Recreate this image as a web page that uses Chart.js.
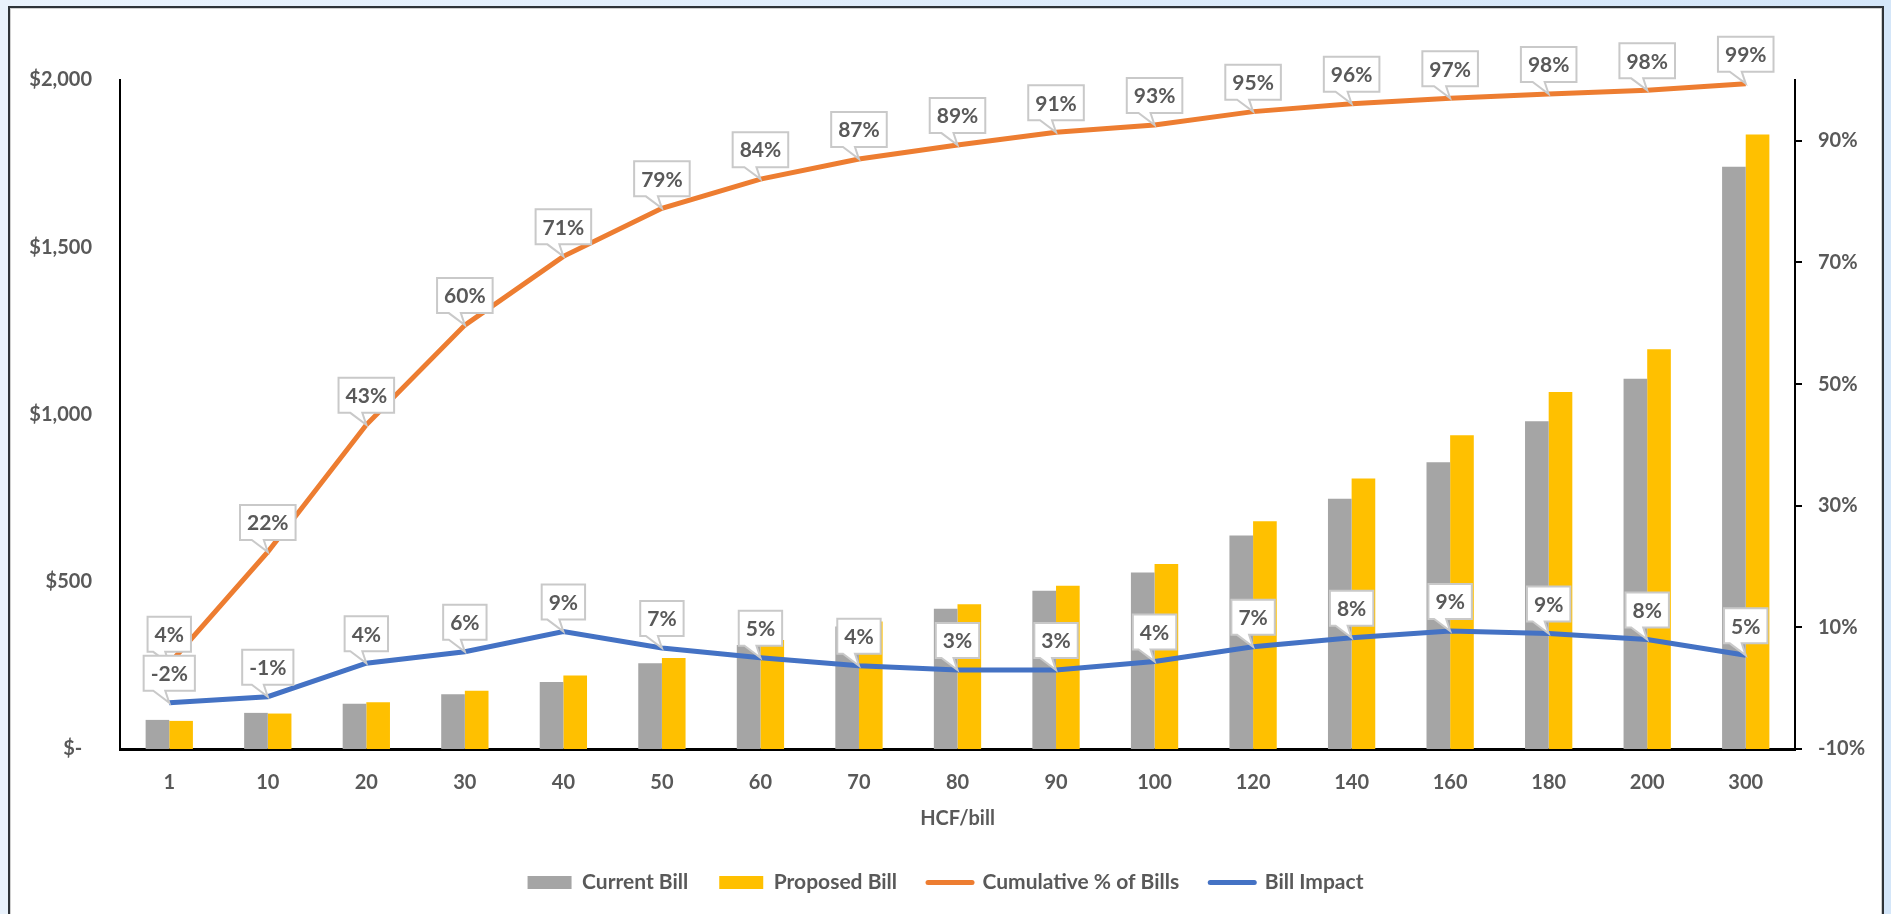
<!DOCTYPE html>
<html>
<head>
<meta charset="utf-8">
<script src="https://cdn.jsdelivr.net/npm/chart.js@4.4.1/dist/chart.umd.min.js"></script>
<style>
  html, body { margin: 0; padding: 0; overflow: hidden; }
  body { width: 1891px; height: 914px; background: linear-gradient(90deg, #e9f2fc 0%, #d4e6f9 100%); position: relative; }
  #frame { position: absolute; left: 8px; top: 6px; width: 1872px; height: 960px; background: #fff; border: 2px solid #2e3338; box-shadow: inset 0 0 0 1px #d0d0d0; }
  #c { position: absolute; left: 0; top: 0; }
</style>
</head>
<body>
<div id="frame"></div>
<canvas id="c" width="1891" height="914"></canvas>
<script>
var hcf = ['1','10','20','30','40','50','60','70','80','90','100','120','140','160','180','200','300'];
var currentBill = [87, 108, 135, 164, 200, 256, 311, 366, 419, 473, 528, 638, 748, 857, 980, 1107, 1741];
var proposedBill = [84, 106, 140, 174, 220, 272, 326, 381, 433, 488, 553, 681, 809, 938, 1067, 1195, 1837];
var cumulativePct = [0.04, 0.224, 0.433, 0.597, 0.71, 0.789, 0.837, 0.87, 0.893, 0.914, 0.926, 0.948, 0.961, 0.97, 0.977, 0.983, 0.994];
var billImpact = [-0.024, -0.014, 0.041, 0.06, 0.093, 0.066, 0.05, 0.037, 0.03, 0.03, 0.044, 0.068, 0.083, 0.094, 0.09, 0.08, 0.054];
var pctTicks = [-0.1, 0.1, 0.3, 0.5, 0.7, 0.9];

var textColor = '#595959';
var fontFamily = 'Lato, "Open Sans", sans-serif';

// callout boxes above line points
var calloutPlugin = {
    id: 'callouts',
    afterDatasetsDraw: function(chart){
        var ctx = chart.ctx;
        ctx.save();
        ctx.font = 'bold 21px ' + fontFamily;
        ctx.textAlign = 'center';
        ctx.textBaseline = 'middle';
        chart.data.datasets.forEach(function(ds, di){
            if(!ds.callout){ return; }
            var meta = chart.getDatasetMeta(di);
            meta.data.forEach(function(pt, i){
                var txt = Math.round(ds.data[i] * 100) + '%';
                var w = ctx.measureText(txt).width + 14;
                var h = 35;
                var cx = pt.x, py = pt.y;
                var bottom = py - 12, top = bottom - h;
                var left = cx - w / 2, right = cx + w / 2;
                ctx.beginPath();
                ctx.moveTo(left, top);
                ctx.lineTo(right, top);
                ctx.lineTo(right, bottom);
                ctx.lineTo(cx - 4, bottom);
                ctx.lineTo(cx, py);
                ctx.lineTo(cx - 16, bottom);
                ctx.lineTo(left, bottom);
                ctx.closePath();
                ctx.fillStyle = '#fff';
                ctx.fill();
                ctx.lineWidth = 2;
                ctx.strokeStyle = '#c9c9c9';
                ctx.stroke();
                ctx.fillStyle = textColor;
                ctx.fillText(txt, cx, top + h / 2 + 1);
            });
        });
        ctx.restore();
    }
};

new Chart(document.getElementById('c'), {
    type: 'bar',
    data: {
        labels: hcf,
        datasets: [
            { label: 'Current Bill', data: currentBill, backgroundColor: '#a5a5a5', yAxisID: 'y', order: 2 },
            { label: 'Proposed Bill', data: proposedBill, backgroundColor: '#ffc000', yAxisID: 'y', order: 2 },
            { type: 'line', label: 'Cumulative % of Bills', data: cumulativePct, borderColor: '#ed7d31', backgroundColor: '#ed7d31',
              borderWidth: 5, pointRadius: 0, tension: 0, yAxisID: 'y1', order: 1, callout: true },
            { type: 'line', label: 'Bill Impact', data: billImpact, borderColor: '#4472c4', backgroundColor: '#4472c4',
              borderWidth: 5, pointRadius: 0, tension: 0, yAxisID: 'y1', order: 1, callout: true }
        ]
    },
    options: {
        responsive: false,
        devicePixelRatio: 1,
        animation: false,
        layout: { padding: { left: 0, right: 0, top: 80, bottom: 11 } },
        datasets: { bar: { categoryPercentage: 0.48, barPercentage: 1.0 } },
        plugins: {
            tooltip: { enabled: false },
            legend: {
                position: 'bottom',
                labels: {
                    color: textColor,
                    font: { family: fontFamily, size: 21, weight: 'bold' },
                    usePointStyle: true,
                    pointStyleWidth: 44,
                    boxHeight: 13,
                    padding: 31,
                    generateLabels: function(chart){
                        return chart.data.datasets.map(function(ds, i){
                            var isLine = ds.type === 'line';
                            return {
                                text: ds.label,
                                fillStyle: isLine ? ds.borderColor : ds.backgroundColor,
                                strokeStyle: isLine ? ds.borderColor : ds.backgroundColor,
                                lineWidth: isLine ? 5 : 0,
                                lineCap: 'round',
                                pointStyle: isLine ? 'line' : 'rect',
                                fontColor: textColor,
                                datasetIndex: i
                            };
                        });
                    }
                }
            }
        },
        scales: {
            x: {
                grid: { display: false, drawTicks: false },
                border: { display: true, color: '#000', width: 3 },
                ticks: { color: textColor, font: { family: fontFamily, size: 20, weight: 'bold' }, padding: 22 },
                title: { display: true, text: 'HCF/bill', color: textColor, font: { family: fontFamily, size: 20, weight: 'bold' }, padding: { top: 0, bottom: 10 } },
                afterFit: function(scale){ scale.height = 92; }
            },
            y: {
                position: 'left',
                min: 0, max: 2000,
                grid: { display: false, drawTicks: false },
                border: { display: true, color: '#000', width: 2 },
                ticks: {
                    stepSize: 500,
                    padding: 28,
                    color: textColor,
                    font: { family: fontFamily, size: 20, weight: 'bold' },
                    callback: function(v){ return v === 0 ? '$-  ' : '$' + v.toLocaleString('en-US'); }
                },
                afterFit: function(scale){ scale.width = 120; }
            },
            y1: {
                position: 'right',
                min: -0.1, max: 1.0,
                grid: { display: true, drawOnChartArea: false, drawTicks: true, tickLength: 7, color: '#000', lineWidth: 2 },
                border: { display: true, color: '#000', width: 2 },
                afterBuildTicks: function(scale){
                    scale.ticks = pctTicks.map(function(v){ return { value: v }; });
                },
                ticks: {
                    padding: 16,
                    color: textColor,
                    font: { family: fontFamily, size: 20, weight: 'bold' },
                    callback: function(v){ return Math.round(v * 100) + '%'; }
                },
                afterFit: function(scale){ scale.width = 96; }
            }
        }
    },
    plugins: [calloutPlugin]
});
</script>
</body>
</html>
